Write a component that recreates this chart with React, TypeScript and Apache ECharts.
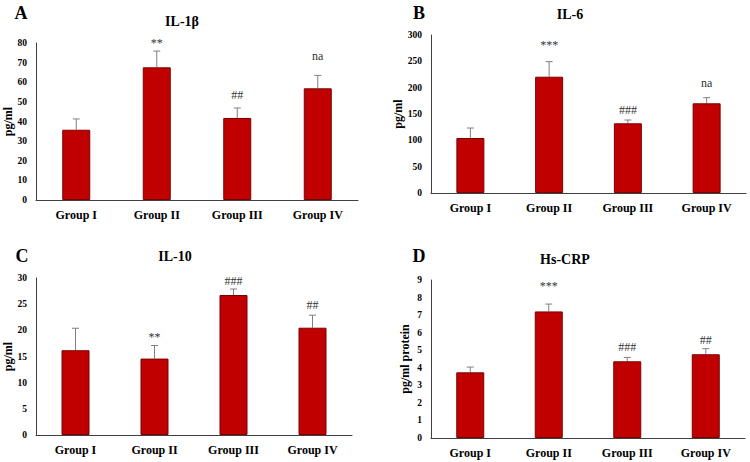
import React, { useEffect, useRef } from "react";
import * as echarts from "echarts";

const categories = ["Group I", "Group II", "Group III", "Group IV"];

// Panel A: IL-1β (pg/ml)
const il1bMean = [35.8, 67.6, 41.8, 56.9];
const il1bErr = [5.5, 8.3, 5.1, 6.6];
const il1bMarks = ["", "**", "##", "na"];
const il1bMarkLevel = [0, 80.2, 53.5, 73.4];

// Panel B: IL-6 (pg/ml)
const il6Mean = [104.4, 220.8, 132.3, 170.3];
const il6Err = [19, 28.6, 6.3, 10.7];
const il6Marks = ["", "***", "###", "na"];
const il6MarkLevel = [0, 281, 157.6, 209.4];

// Panel C: IL-10 (pg/ml)
const il10Mean = [16.2, 14.6, 26.75, 20.5];
const il10Err = [4.2, 2.5, 1.15, 2.4];
const il10Marks = ["", "**", "###", "##"];
const il10MarkLevel = [0, 18.8, 29.35, 24.9];

// Panel D: Hs-CRP (pg/ml protein)
const crpMean = [3.74, 7.21, 4.37, 4.77];
const crpErr = [0.3, 0.42, 0.22, 0.32];
const crpMarks = ["", "***", "###", "##"];
const crpMarkLevel = [0, 8.67, 5.16, 5.58];

const SERIF = '"Liberation Serif", "Times New Roman", serif';
const BAR_FILL = "#c00000";
const BAR_BORDER = "#7a0000";
const AXIS_COLOR = "#404040";
const ERR_COLOR = "#808080";
const MARK_COLOR = "#333333";

type Panel = {
  grid: { left: number; top: number; width: number; height: number };
  max: number;
  interval: number;
  name: string;
  mean: number[];
  err: number[];
  marks: string[];
  markLevel: number[];
};

const panels: Panel[] = [
  { grid: { left: 36, top: 43, width: 322, height: 157 }, max: 80, interval: 10, name: "pg/ml", mean: il1bMean, err: il1bErr, marks: il1bMarks, markLevel: il1bMarkLevel },
  { grid: { left: 431, top: 35, width: 315, height: 158 }, max: 300, interval: 50, name: "pg/ml", mean: il6Mean, err: il6Err, marks: il6Marks, markLevel: il6MarkLevel },
  { grid: { left: 36, top: 278, width: 316, height: 157 }, max: 30, interval: 5, name: "pg/ml", mean: il10Mean, err: il10Err, marks: il10Marks, markLevel: il10MarkLevel },
  { grid: { left: 431, top: 280, width: 314, height: 158 }, max: 9, interval: 1, name: "pg/ml protein", mean: crpMean, err: crpErr, marks: crpMarks, markLevel: crpMarkLevel },
];

const headings = [
  { text: "A", x: 21, y: 13, size: 18 },
  { text: "IL-1β", x: 182, y: 21, size: 14 },
  { text: "B", x: 419, y: 13, size: 18 },
  { text: "IL-6", x: 570, y: 14, size: 14 },
  { text: "C", x: 22, y: 256, size: 18 },
  { text: "IL-10", x: 175, y: 256, size: 14 },
  { text: "D", x: 419, y: 256, size: 18 },
  { text: "Hs-CRP", x: 565, y: 259, size: 14 },
];

export default function App() {
  const ref = useRef<HTMLDivElement>(null);
  useEffect(() => {
    if (!ref.current) return;
    const chart = echarts.init(ref.current, null, { renderer: "svg" });

    const grids: any[] = [];
    const xAxes: any[] = [];
    const yAxes: any[] = [];
    const series: any[] = [];

    panels.forEach((p, i) => {
      grids.push({ ...p.grid, containLabel: false, outerBoundsMode: "none" });
      xAxes.push({
        type: "category",
        gridIndex: i,
        data: categories,
        boundaryGap: true,
        axisLine: { show: true, lineStyle: { color: AXIS_COLOR, width: 1 } },
        axisTick: { show: false },
        axisLabel: { color: "#000", fontFamily: SERIF, fontWeight: "bold", fontSize: 12, margin: 9, interval: 0 },
        splitLine: { show: false },
      });
      yAxes.push({
        type: "value",
        gridIndex: i,
        min: 0,
        max: p.max,
        interval: p.interval,
        name: p.name,
        nameLocation: "middle",
        nameGap: 20,
        nameRotate: 90,
        nameTextStyle: { color: "#000", fontFamily: SERIF, fontWeight: "bold", fontSize: 12 },
        axisLine: { show: true, lineStyle: { color: AXIS_COLOR, width: 1 } },
        axisTick: { show: false },
        axisLabel: { color: "#000", fontFamily: SERIF, fontWeight: "bold", fontSize: 9.5, margin: 9 },
        splitLine: { show: false },
      });
      series.push({
        type: "bar",
        xAxisIndex: i,
        yAxisIndex: i,
        data: p.mean,
        barWidth: 28,
        itemStyle: { color: BAR_FILL, borderColor: BAR_BORDER, borderWidth: 1 },
        z: 2,
      });
      series.push({
        type: "custom",
        xAxisIndex: i,
        yAxisIndex: i,
        data: p.mean.map((m, k) => [k, m, m + p.err[k]]),
        itemStyle: { color: ERR_COLOR },
        z: 1,
        renderItem: (params: any, api: any) => {
          const x = api.value(0);
          const base = api.coord([x, api.value(1)]);
          const top = api.coord([x, api.value(2)]);
          const half = 3.5;
          return {
            type: "group",
            children: [
              { type: "line", shape: { x1: base[0], y1: base[1], x2: top[0], y2: top[1] }, style: { stroke: ERR_COLOR, lineWidth: 1 } },
              { type: "line", shape: { x1: top[0] - half, y1: top[1], x2: top[0] + half, y2: top[1] }, style: { stroke: ERR_COLOR, lineWidth: 1 } },
            ],
          };
        },
      });
      series.push({
        type: "custom",
        xAxisIndex: i,
        yAxisIndex: i,
        data: p.marks.map((t, k) => [k, p.markLevel[k], t]).filter((d) => d[2] !== ""),
        itemStyle: { color: MARK_COLOR },
        z: 3,
        renderItem: (params: any, api: any) => {
          const pt = api.coord([api.value(0), api.value(1)]);
          const t = p.marks[api.value(0) as number];
          return {
            type: "text",
            x: pt[0],
            y: pt[1],
            style: { text: t, textAlign: "center", textVerticalAlign: "middle", fill: MARK_COLOR, font: `12px ${SERIF}` },
          };
        },
      });
    });

    chart.setOption({
      animation: false,
      backgroundColor: "#fff",
      grid: grids,
      xAxis: xAxes,
      yAxis: yAxes,
      series,
      graphic: headings.map((h) => ({
        type: "text",
        x: h.x,
        y: h.y,
        style: { text: h.text, textAlign: "center", textVerticalAlign: "middle", fill: "#000", font: `bold ${h.size}px ${SERIF}` },
      })),
    });
    return () => chart.dispose();
  }, []);
  return <div ref={ref} style={{ position: "fixed", left: 0, top: 0, width: 750, height: 462 }} />;
}
